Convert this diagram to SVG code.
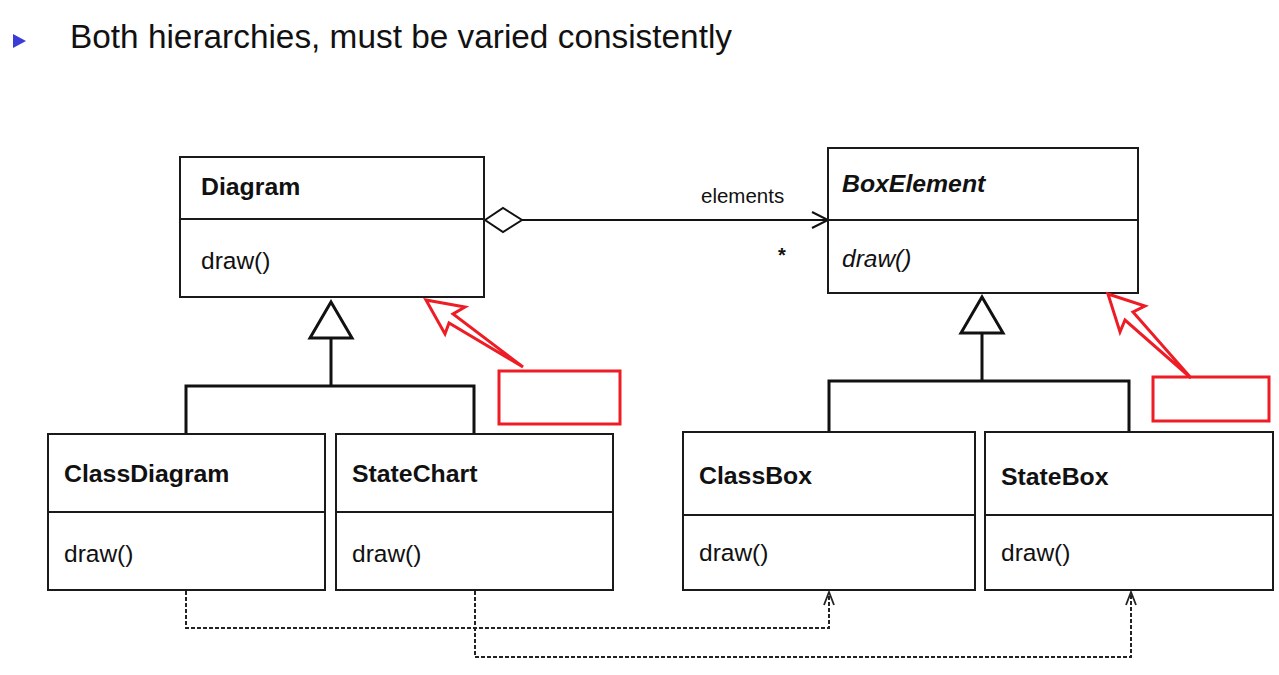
<svg xmlns="http://www.w3.org/2000/svg" width="1279" height="675" viewBox="0 0 1279 675">
<style>
.box{fill:#fff;stroke:#1a1a1a;stroke-width:2}
.div{stroke:#1a1a1a;stroke-width:2}
.name{font-family:"Liberation Sans",Arial,sans-serif;font-size:24.8px;font-weight:bold;fill:#111}
.op{font-family:"Liberation Sans",Arial,sans-serif;font-size:24.5px;fill:#111}
.gen{fill:none;stroke:#111;stroke-width:3}
.tri{fill:#fff;stroke:#111;stroke-width:3;stroke-linejoin:miter}
.dash{fill:none;stroke:#222;stroke-width:2;stroke-dasharray:4 2}
.head{fill:none;stroke:#222;stroke-width:1.8}
.red{fill:none;stroke:#ee1c25;stroke-width:3;stroke-linejoin:miter}
</style>
<rect width="1279" height="675" fill="#fff"/>
<g id="title">
<polygon points="13,34 26,41 13,48" fill="#3b3bd6"/>
<text x="70" y="48" font-family="'Liberation Sans',Arial,sans-serif" font-size="33" fill="#111" textLength="662" lengthAdjust="spacingAndGlyphs">Both hierarchies, must be varied consistently</text>
</g>
<g id="connectors">
<line x1="522" y1="220" x2="827" y2="220" stroke="#111" stroke-width="2"/>
<polygon points="485,220 503,208 522,220 503,232" fill="#fff" stroke="#111" stroke-width="2"/>
<polyline points="812,212 828,220 812,228" fill="none" stroke="#111" stroke-width="2"/>
<text x="701" y="203" font-family="'Liberation Sans',Arial,sans-serif" font-size="20.5" fill="#111">elements</text>
<text x="778" y="262" font-family="'Liberation Sans',Arial,sans-serif" font-size="20" font-weight="bold" fill="#111">*</text>
<polyline class="gen" points="186,434 186,386 474,386 474,434"/>
<line class="gen" x1="331" y1="338" x2="331" y2="386"/>
<polygon class="tri" points="331,302 352,338 310,338"/>
<polyline class="gen" points="829,432 829,381 1129,381 1129,432"/>
<line class="gen" x1="982" y1="333" x2="982" y2="381"/>
<polygon class="tri" points="982,297 1003,333 961,333"/>
<polyline class="dash" points="186,591 186,628 829,628 829,592"/>
<polyline class="head" points="824,605 829,592 834,605"/>
<polyline class="dash" points="475,591 475,657 1131,657 1131,592"/>
<polyline class="head" points="1126,605 1131,592 1136,605"/>
</g>
<g id="Diagram">
<rect class="box" x="180" y="157" width="304" height="140"/>
<line class="div" x1="180" y1="219" x2="484" y2="219"/>
<text class="name" x="201" y="195">Diagram</text>
<text class="op" x="201" y="269">draw()</text>
</g>
<g id="BoxElement">
<rect class="box" x="828" y="148" width="310" height="145"/>
<line class="div" x1="828" y1="220" x2="1138" y2="220"/>
<text class="name" x="842" y="192" font-style="italic">BoxElement</text>
<text class="op" x="842" y="267" font-style="italic">draw()</text>
</g>
<g id="ClassDiagram">
<rect class="box" x="48" y="434" width="277" height="156"/>
<line class="div" x1="48" y1="512" x2="325" y2="512"/>
<text class="name" x="64" y="482">ClassDiagram</text>
<text class="op" x="64" y="562">draw()</text>
</g>
<g id="StateChart">
<rect class="box" x="336" y="434" width="277" height="156"/>
<line class="div" x1="336" y1="512" x2="613" y2="512"/>
<text class="name" x="352" y="482">StateChart</text>
<text class="op" x="352" y="562">draw()</text>
</g>
<g id="ClassBox">
<rect class="box" x="683" y="432" width="292" height="158"/>
<line class="div" x1="683" y1="515" x2="975" y2="515"/>
<text class="name" x="699" y="484">ClassBox</text>
<text class="op" x="699" y="561">draw()</text>
</g>
<g id="StateBox">
<rect class="box" x="985" y="432" width="288" height="158"/>
<line class="div" x1="985" y1="515" x2="1273" y2="515"/>
<text class="name" x="1001" y="485">StateBox</text>
<text class="op" x="1001" y="561">draw()</text>
</g>
<g id="callout-left">
<polygon class="red" points="426,300 465,307 453,314 523,367 449,323 445,334"/>
<rect class="red" x="499" y="371" width="121" height="53"/>
</g>
<g id="callout-right">
<polygon class="red" points="1108,294 1145,306 1133,312 1191,378 1125,320 1120,332"/>
<rect class="red" x="1153" y="377" width="116" height="44"/>
</g>
</svg>
